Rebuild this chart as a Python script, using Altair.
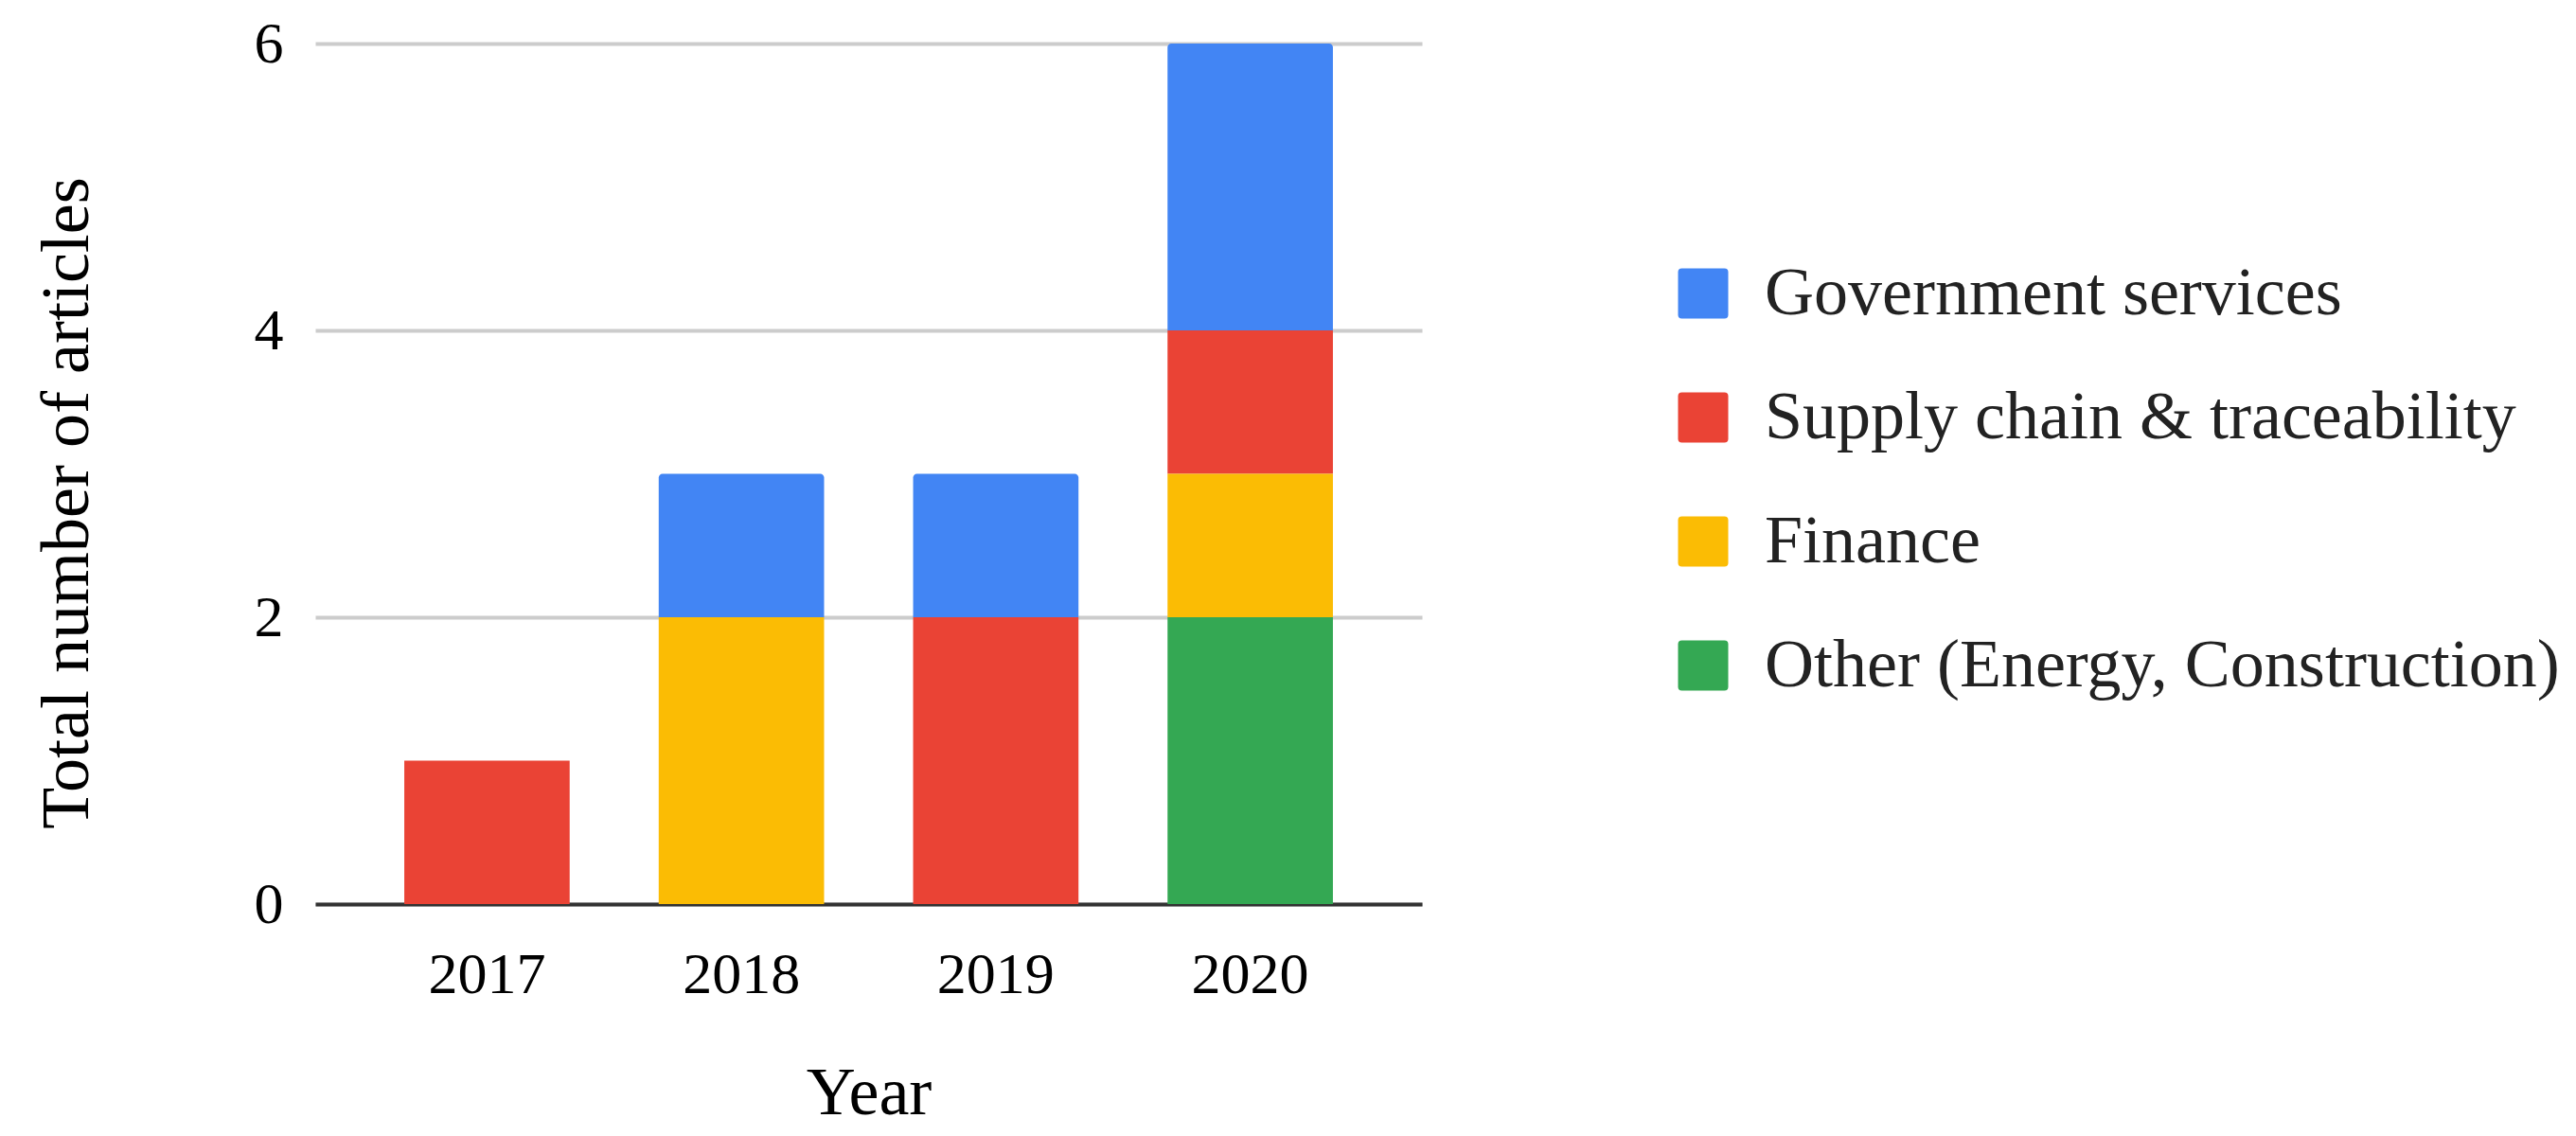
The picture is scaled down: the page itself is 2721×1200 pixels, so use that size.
import altair as alt
import pandas as pd

# ---- data ----
years = ["2017", "2018", "2019", "2020"]
categories = [
    "Government services",
    "Supply chain & traceability",
    "Finance",
    "Other (Energy, Construction)",
]
colors = ["#4285F4", "#EA4335", "#FBBC04", "#34A853"]

government = [0, 1, 1, 2]
supply_chain = [1, 0, 2, 1]
finance = [0, 2, 0, 1]
other = [0, 0, 0, 2]

y_ticks = [0, 2, 4, 6]

# stacking order: bottom -> top
stack_rank = {
    "Other (Energy, Construction)": 0,
    "Finance": 1,
    "Supply chain & traceability": 2,
    "Government services": 3,
}
series = {
    "Government services": government,
    "Supply chain & traceability": supply_chain,
    "Finance": finance,
    "Other (Energy, Construction)": other,
}

rows = []
for cat, vals in series.items():
    for yr, v in zip(years, vals):
        if v > 0:
            rows.append({"year": yr, "category": cat, "count": v, "rank": stack_rank[cat]})
df = pd.DataFrame(rows)

FONT = "Liberation Serif"
rounded_square = (
    "M -0.85,-1 L 0.85,-1 Q 1,-1 1,-0.85 L 1,0.85 Q 1,1 0.85,1 "
    "L -0.85,1 Q -1,1 -1,0.85 L -1,-0.85 Q -1,-1 -0.85,-1 Z"
)

base = (
    alt.Chart(df)
    .transform_stack(
        stack="count",
        groupby=["year"],
        as_=["y0", "y1"],
        sort=[alt.SortField(field="rank", order="ascending")],
    )
    .encode(
        x=alt.X(
            "year:N",
            sort=years,
            scale=alt.Scale(paddingInner=0.35, paddingOuter=0.35),
            axis=alt.Axis(
                title="Year",
                labelAngle=0,
                labelFont=FONT,
                labelFontSize=62,
                labelColor="#000000",
                labelPadding=44,
                ticks=False,
                domain=True,
                domainColor="#333333",
                domainWidth=4,
                grid=False,
                titleFont=FONT,
                titleFontSize=72,
                titleFontWeight="normal",
                titleColor="#000000",
                titleBaseline="alphabetic",
                titleY=221,
            ),
        ),
        y=alt.Y(
            "y0:Q",
            scale=alt.Scale(domain=[0, 6], nice=False),
            axis=alt.Axis(
                title="Total number of articles",
                values=y_ticks,
                labelFont=FONT,
                labelFontSize=62,
                labelColor="#000000",
                labelPadding=34,
                ticks=False,
                domain=False,
                grid=True,
                gridColor="#cccccc",
                gridWidth=4,
                titleFont=FONT,
                titleFontSize=72,
                titleFontWeight="normal",
                titleColor="#000000",
                titleAngle=270,
                titleBaseline="alphabetic",
                titleAlign="center",
                titleX=-241,
                titleY=485,
            ),
        ),
        y2="y1:Q",
        color=alt.Color(
            "category:N",
            scale=alt.Scale(domain=categories, range=colors),
            legend=alt.Legend(
                title=None,
                orient="none",
                legendX=1430,
                legendY=228,
                direction="vertical",
                labelFont=FONT,
                labelFontSize=72,
                labelColor="#222222",
                labelLimit=3000,
                labelOffset=29,
                symbolType=rounded_square,
                symbolSize=2809,
                symbolStrokeWidth=0,
                symbolOpacity=1,
                rowPadding=59,
                padding=0,
            ),
        ),
    )
)

lower = base.transform_filter(alt.datum.category != "Government services").mark_bar()
top = base.transform_filter(alt.datum.category == "Government services").mark_bar(
    cornerRadiusTopLeft=4, cornerRadiusTopRight=4
)

chart = (
    alt.layer(lower, top)
    .properties(
        width=1169,
        height=909,
        background="white",
        autosize=alt.AutoSizeParams(type="none"),
        padding={"left": 325, "top": 38, "right": 1210, "bottom": 242},
    )
    .configure_view(stroke=None, strokeWidth=0)
)

chart.save("out.html", embed_options={"renderer": "svg", "actions": False})
